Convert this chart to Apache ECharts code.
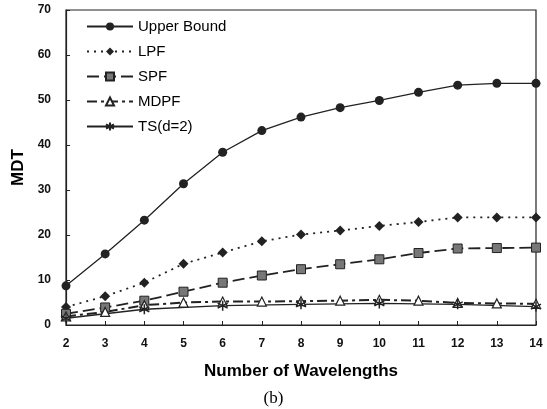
<!DOCTYPE html>
<html>
<head>
<meta charset="utf-8">
<script src="https://cdn.jsdelivr.net/npm/echarts@6/dist/echarts.min.js"></script>
<style>
  html, body { margin: 0; padding: 0; background: #fff; }
  #chart { width: 547px; height: 409px; }
</style>
</head>
<body>
<div id="chart"></div>
<script>
// 波长数
const wavelengths = ['2', '3', '4', '5', '6', '7', '8', '9', '10', '11', '12', '13', '14']
const upperBound = [8.7, 15.8, 23.3, 31.4, 38.4, 43.2, 46.2, 48.3, 49.9, 51.7, 53.3, 53.7, 53.7]
const lpf = [4.0, 6.4, 9.4, 13.6, 16.1, 18.6, 20.1, 21.0, 22.0, 22.9, 23.9, 23.9, 23.9]
const spf = [2.5, 3.9, 5.4, 7.4, 9.4, 11.0, 12.4, 13.5, 14.6, 16.0, 17.0, 17.1, 17.2]
const mdpf = [1.9, 2.9, 4.4, 5.0, 5.2, 5.2, 5.3, 5.4, 5.6, 5.4, 4.9, 4.8, 4.7]
// TS 只在偶数波长处有点
const ts = [1.5, null, 3.5, null, 4.3, null, 4.6, null, 4.8, null, 4.6, null, 4.1]
const yTicks = { min: 0, max: 70, interval: 10 }

const star = 'path://M0,-10 L0,10 M-8.66,-5 L8.66,5 M-8.66,5 L8.66,-5'
const ink = '#222'
const font = 'Liberation Sans'

const chart = echarts.init(document.getElementById('chart'))

const option = {
  animation: false,
  title: {
    text: '(b)',
    left: 'center',
    top: 385,
    textStyle: { fontFamily: 'Liberation Serif', fontSize: 17, fontWeight: 'normal', color: '#000' }
  },
  grid: {
    left: 66, right: 11, top: 10, bottom: 84,
    show: true, borderColor: ink, borderWidth: 1.2
  },
  legend: {
    orient: 'vertical',
    left: 81, top: 14,
    itemWidth: 46, itemHeight: 10, itemGap: 10,
    textStyle: { fontFamily: font, fontSize: 15, color: '#000', lineHeight: 14 },
    data: ['Upper Bound', 'LPF', 'SPF', 'MDPF', 'TS(d=2)']
  },
  xAxis: {
    type: 'category',
    data: wavelengths,
    boundaryGap: false,
    name: 'Number of Wavelengths',
    nameLocation: 'middle',
    nameGap: 38,
    nameTextStyle: { fontFamily: font, fontSize: 17, fontWeight: 'bold', color: '#000' },
    axisLine: { lineStyle: { color: ink, width: 1.2 } },
    axisTick: { inside: true, length: 4, lineStyle: { color: ink } },
    axisLabel: { fontFamily: font, fontSize: 12, fontWeight: 'bold', color: '#111', margin: 13 },
    splitLine: { show: false }
  },
  yAxis: {
    type: 'value',
    min: yTicks.min, max: yTicks.max, interval: yTicks.interval,
    name: 'MDT',
    nameLocation: 'middle',
    nameGap: 38,
    nameTextStyle: { fontFamily: font, fontSize: 17, fontWeight: 'bold', color: '#000' },
    axisLine: { show: true, lineStyle: { color: ink, width: 1.2 } },
    axisTick: { show: true, inside: true, length: 4, lineStyle: { color: ink } },
    axisLabel: { fontFamily: font, fontSize: 12, fontWeight: 'bold', color: '#111', margin: 15 },
    splitLine: { show: false }
  },
  series: [
    {
      name: 'Upper Bound', type: 'line', data: upperBound,
      symbol: 'circle', symbolSize: 9,
      lineStyle: { color: ink, width: 1.3 },
      itemStyle: { color: ink }
    },
    {
      name: 'LPF', type: 'line', data: lpf,
      symbol: 'diamond', symbolSize: 10,
      lineStyle: { color: ink, width: 1.8, type: [2, 5] },
      itemStyle: { color: ink }
    },
    {
      name: 'SPF', type: 'line', data: spf,
      symbol: 'rect', symbolSize: 9,
      lineStyle: { color: ink, width: 1.8, type: [12, 5] },
      itemStyle: { color: '#777', borderColor: ink, borderWidth: 1 }
    },
    {
      name: 'MDPF', type: 'line', data: mdpf,
      symbol: 'triangle', symbolSize: 9,
      lineStyle: { color: ink, width: 2, type: [10, 4, 3, 4] },
      itemStyle: { color: '#fff', borderColor: ink, borderWidth: 1.2 }
    },
    {
      name: 'TS(d=2)', type: 'line', data: ts, connectNulls: true,
      symbol: star, symbolSize: 10,
      lineStyle: { color: ink, width: 1.3 },
      itemStyle: { color: ink, borderColor: ink, borderWidth: 1.5 }
    }
  ]
}

chart.setOption(option)
</script>
</body>
</html>
